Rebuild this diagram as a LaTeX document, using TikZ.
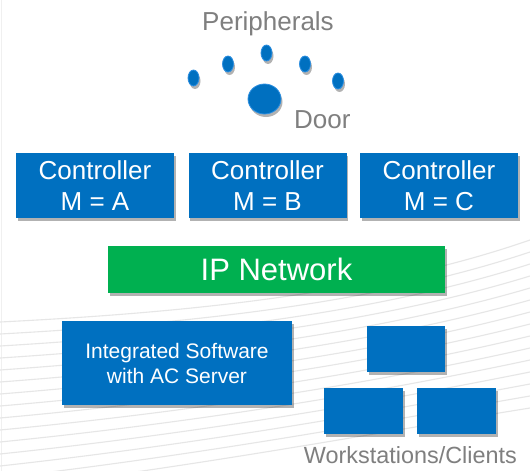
\documentclass[tikz,border=0pt]{standalone}
\usepackage{fontspec}
\setmainfont{Liberation Sans}
\usetikzlibrary{shadows,shapes.geometric}
\definecolor{boxblue}{HTML}{0070C0}
\definecolor{dotrim}{HTML}{2E8FE0}
\definecolor{netgreen}{HTML}{00B050}
\definecolor{labgray}{HTML}{7F7F7F}
\definecolor{bgline}{HTML}{E6E6E6}
\begin{document}
\begin{tikzpicture}[x=1pt,y=-1pt,
  dshadow/.style={drop shadow={shadow xshift=1.5pt,shadow yshift=-3pt,opacity=0.3,fill=black}},
  bluebox/.style={dshadow,fill=boxblue,draw=none,text=white,inner sep=0pt,align=center},
  greenbox/.style={dshadow,fill=netgreen,draw=none,text=white,inner sep=0pt,align=center},
  lab/.style={text=labgray,font=\fontsize{26}{30}\selectfont,inner sep=0pt},
  periph/.style={dshadow,fill=boxblue,draw=dotrim,line width=0.8pt,ellipse,inner sep=0pt}]
\useasboundingbox (0,0) rectangle (530,471);
\fill[white] (0,0) rectangle (530,471);
\draw[gray!12,line width=0.6pt] (1.5,0) -- (1.5,471);
% background lines
\foreach \i in {0,...,14}{
  \draw[bgline,line width=1.1pt] (0,{322+12*\i}) .. controls (200,{312+11*\i}) and (380,{292+10*\i}) .. (530,{240+12*\i});
}
% peripherals
\node[lab,anchor=base] (per) at (268,30) {Peripherals};
\node[periph,minimum width=11pt,minimum height=16pt] (p1) at (193.5,78) {};
\node[periph,minimum width=11pt,minimum height=16pt] (p2) at (228,64) {};
\node[periph,minimum width=11pt,minimum height=16pt] (p3) at (266.5,53) {};
\node[periph,minimum width=11pt,minimum height=16pt] (p4) at (305,64) {};
\node[periph,minimum width=11pt,minimum height=16pt] (p5) at (338,81) {};
\node[periph,minimum width=33pt,minimum height=30pt] (door) at (264.5,99) {};
\node[lab,anchor=base west] (doorlab) at (294,128) {Door};
% controllers
\foreach \n/\x/\m in {ca/95/A,cb/267.5/B,cc/439/C}{
  \node[bluebox,minimum width=158pt,minimum height=65pt,font=\fontsize{26}{31}\selectfont] (\n) at (\x,185.5) {Controller\\M = \m};
}
% network
\node[greenbox,minimum width=337pt,minimum height=47pt,font=\fontsize{31}{36}\selectfont] (net) at (276.5,269.5) {IP Network};
% server
\node[bluebox,minimum width=230pt,minimum height=84pt,font=\fontsize{21}{25}\selectfont] (srv) at (177,363) {Integrated Software\\with AC Server};
% workstations
\node[bluebox,minimum width=78pt,minimum height=46pt] (w1) at (406,349) {};
\node[bluebox,minimum width=79pt,minimum height=46pt] (w2) at (363.5,411) {};
\node[bluebox,minimum width=79pt,minimum height=46pt] (w3) at (456.5,411) {};
\node[lab,anchor=base east,font=\fontsize{23.4}{28}\selectfont] (wlab) at (517,463) {Workstations/Clients};
\end{tikzpicture}
\end{document}
